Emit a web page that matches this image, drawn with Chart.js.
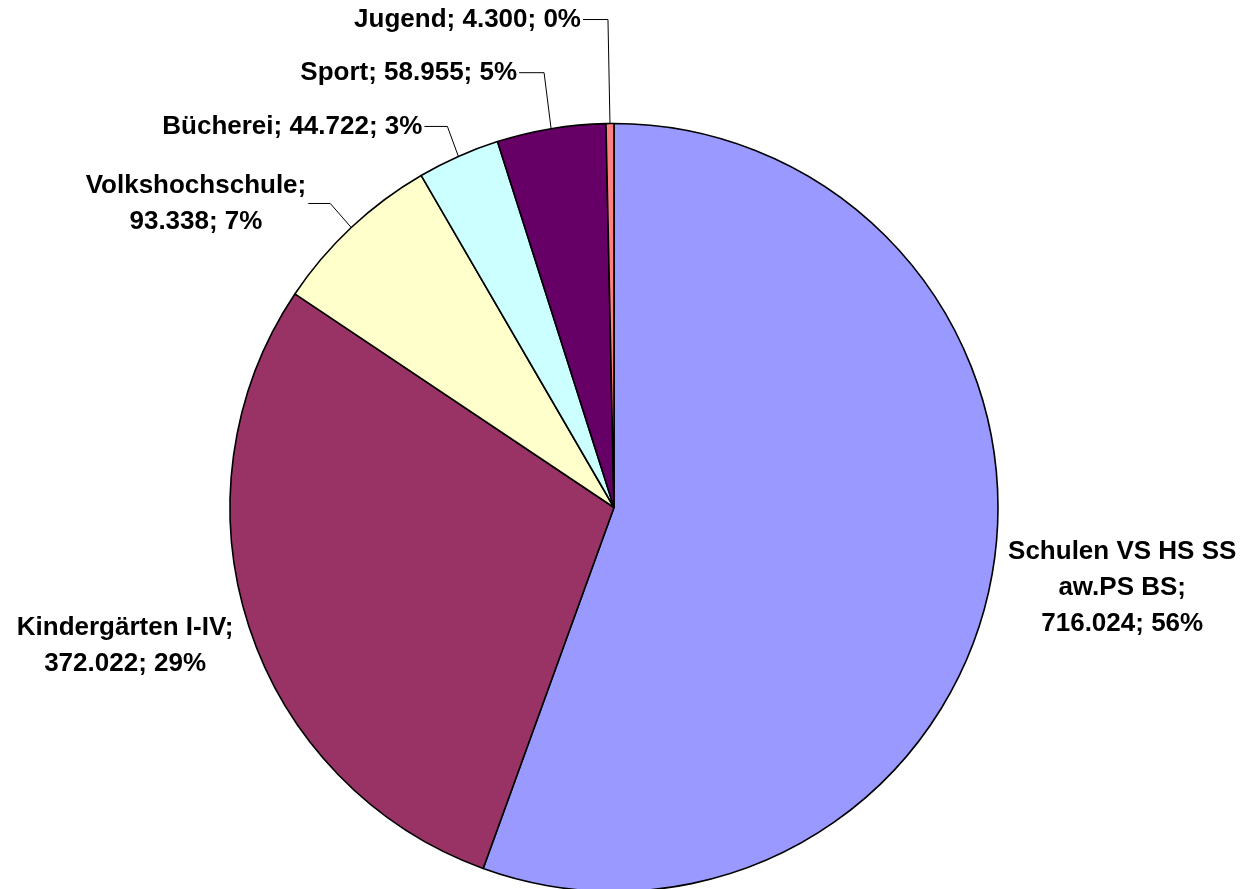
<!DOCTYPE html>
<html lang="de">
<head>
  <meta charset="UTF-8">
  <title>Aufteilung</title>
  <script src="https://cdn.jsdelivr.net/npm/chart.js"></script>
  <style>
    body {
      margin: 0;
      background: #fff;
      overflow: hidden;
    }
    #wrap {
      width: 1250px;
      height: 889px;
      position: relative;
    }
  </style>
</head>
<body>
  <div id="wrap">
    <canvas id="pieChart"></canvas>
  </div>

  <script>
    // data, clockwise from 12 o'clock
    const categories = [
      "Schulen VS HS SS\naw.PS BS",
      "Kindergärten I-IV",
      "Volkshochschule",
      "Bücherei",
      "Sport",
      "Jugend"
    ];
    const values = [716024, 372022, 93338, 44722, 58955, 4300];
    const colors = ["#9999FF", "#993366", "#FFFFCC", "#CCFFFF", "#660066", "#FF8080"];

    // label placement relative to the slice's outer edge point
    // block: text block centre offset; leader: elbow offset + horizontal run to the left
    const labelLayout = [
      { type: "block", dx: 130, dy: 14, wrapValue: true },
      { type: "block", dx: -124, dy: 19, wrapValue: true },
      { type: "leader", dx: -21, dy: -24, run: 22, wrapValue: true },
      { type: "leader", dx: -11, dy: -30, run: 23 },
      { type: "leader", dx: -7, dy: -56, run: 25 },
      { type: "leader", dx: -2, dy: -104, run: 25 }
    ];

    const total = values.reduce((a, b) => a + b, 0);

    function fmt(n) {
      return String(n).replace(/\B(?=(\d{3})+(?!\d))/g, ".");
    }

    function labelLines(i) {
      const pct = Math.round(values[i] / total * 100) + "%";
      const nameLines = categories[i].split("\n");
      const valText = fmt(values[i]) + "; " + pct;
      if (labelLayout[i].wrapValue) {
        nameLines[nameLines.length - 1] += ";";
        return nameLines.concat([valText]);
      }
      return [nameLines.join(" ") + "; " + valText];
    }

    const pieLabels = {
      id: "pieLabels",
      afterDatasetsDraw(chart) {
        const ctx = chart.ctx;
        const arcs = chart.getDatasetMeta(0).data;
        const lineH = 36;
        ctx.save();
        ctx.font = "bold 26px 'Liberation Sans', Arial, sans-serif";
        ctx.fillStyle = "#000";
        ctx.textBaseline = "middle";
        ctx.textAlign = "center";
        arcs.forEach((arc, i) => {
          const mid = (arc.startAngle + arc.endAngle) / 2;
          const ex = arc.x + Math.cos(mid) * arc.outerRadius;
          const ey = arc.y + Math.sin(mid) * arc.outerRadius;
          const lay = labelLayout[i];
          const lines = labelLines(i);
          let cx, cy;
          if (lay.type === "leader") {
            const bx = ex + lay.dx, by = ey + lay.dy;
            const tx = bx - lay.run;
            ctx.strokeStyle = "#000";
            ctx.lineWidth = 1;
            ctx.beginPath();
            ctx.moveTo(ex, ey);
            ctx.lineTo(bx, by);
            ctx.lineTo(tx, by);
            ctx.stroke();
            const w = Math.max(...lines.map(l => ctx.measureText(l).width));
            cx = tx - 2 - w / 2;
            cy = by;
          } else {
            cx = ex + lay.dx;
            cy = ey + lay.dy;
          }
          const top = cy - (lines.length - 1) * lineH / 2;
          lines.forEach((l, k) => ctx.fillText(l, cx, top + k * lineH));
        });
        ctx.restore();
      }
    };

    new Chart(document.getElementById("pieChart"), {
      type: "pie",
      data: {
        labels: categories,
        datasets: [{
          data: values,
          backgroundColor: colors,
          borderColor: "#000",
          borderWidth: 1.6,
          radius: 384
        }]
      },
      options: {
        responsive: true,
        maintainAspectRatio: false,
        animation: false,
        layout: { padding: { top: 126, bottom: 0, left: 0, right: 22 } },
        plugins: {
          legend: { display: false },
          tooltip: { enabled: false }
        }
      },
      plugins: [pieLabels]
    });
  </script>
</body>
</html>
